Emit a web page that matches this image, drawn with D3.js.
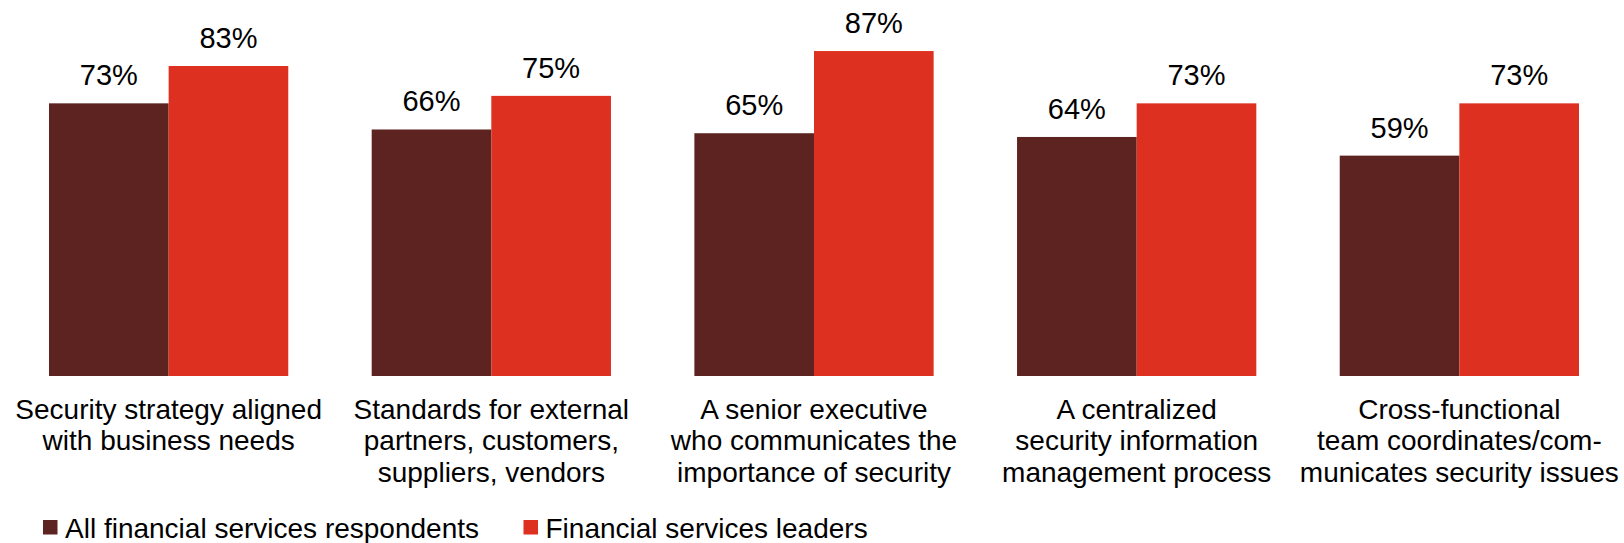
<!DOCTYPE html>
<html>
<head>
<meta charset="utf-8">
<script src="https://cdn.jsdelivr.net/npm/d3@7"></script>
<style>
  html, body { margin: 0; padding: 0; background: #fff; }
  svg { display: block; font-family: "Liberation Sans", Arial, sans-serif; }
</style>
</head>
<body>
<svg id="chart" width="1624" height="543"></svg>
<script>
// Survey categories (each label split into its display lines)
const categories = [
  "Security strategy aligned|with business needs",
  "Standards for external|partners, customers,|suppliers, vendors",
  "A senior executive|who communicates the|importance of security",
  "A centralized|security information|management process",
  "Cross-functional|team coordinates/com-|municates security issues"
];
const seriesNames = ["All financial services respondents", "Financial services leaders"];
const allRespondents = [73, 66, 65, 64, 59];
const leaders = [83, 75, 87, 73, 73];
const seriesColors = ["#5c2320", "#dd3020"];

const svg = d3.select("#chart");
const baseline = 376;

const x0 = d3.scaleBand()
  .domain(categories)
  .range([7.3, 1620.7])
  .paddingInner(0.2585)
  .paddingOuter(0.12925);

const x1 = d3.scaleBand()
  .domain(seriesNames)
  .range([0, x0.bandwidth()]);

const y = d3.scaleLinear().domain([0, 100]).range([baseline, 2.5]);

const rows = categories.map((c, i) => ({
  category: c,
  values: [
    { series: seriesNames[0], value: allRespondents[i], color: seriesColors[0] },
    { series: seriesNames[1], value: leaders[i], color: seriesColors[1] }
  ]
}));

const groups = svg.append("g").selectAll("g")
  .data(rows)
  .join("g")
  .attr("transform", d => `translate(${x0(d.category)},0)`);

groups.selectAll("rect")
  .data(d => d.values)
  .join("rect")
  .attr("x", d => x1(d.series))
  .attr("y", d => y(d.value))
  .attr("width", x1.bandwidth())
  .attr("height", d => y(0) - y(d.value))
  .attr("fill", d => d.color);

groups.selectAll("text.value")
  .data(d => d.values)
  .join("text")
  .attr("class", "value")
  .attr("x", d => x1(d.series) + x1.bandwidth() / 2)
  .attr("y", d => y(d.value) - 18)
  .attr("text-anchor", "middle")
  .attr("font-size", 29)
  .attr("fill", "#000")
  .text(d => d.value + "%");

// Category labels under each group
const catLabels = groups.append("text")
  .attr("text-anchor", "middle")
  .attr("font-size", 28)
  .attr("fill", "#000");

catLabels.selectAll("tspan")
  .data(d => d.category.split("|"))
  .join("tspan")
  .attr("x", x0.bandwidth() / 2)
  .attr("y", (d, i) => 419 + i * 31.3)
  .text(d => d);

// Legend
const legendX = [43, 523.5];
const legend = svg.append("g").selectAll("g")
  .data(seriesNames)
  .join("g")
  .attr("transform", (d, i) => `translate(${legendX[i]},0)`);

legend.append("rect")
  .attr("x", 0)
  .attr("y", 520)
  .attr("width", 14.5)
  .attr("height", 14.5)
  .attr("fill", (d, i) => seriesColors[i]);

legend.append("text")
  .attr("x", 22)
  .attr("y", 537.5)
  .attr("font-size", 28)
  .attr("fill", "#000")
  .text(d => d);
</script>
</body>
</html>
